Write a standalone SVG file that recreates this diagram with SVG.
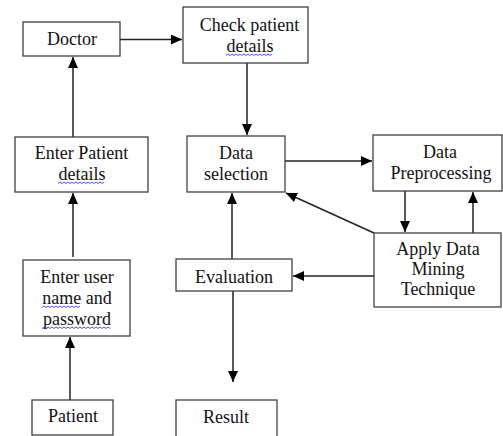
<svg xmlns="http://www.w3.org/2000/svg" width="503" height="436" viewBox="0 0 503 436">
<style>
  .box{fill:#fff;stroke:#404040;stroke-width:1.3}
  .c{stroke:#222;stroke-width:1.5;fill:none}
  .sq{stroke:#3a3aff;stroke-width:0.9;fill:none}
</style>
<defs>
  <marker id="ah" markerUnits="userSpaceOnUse" markerWidth="12" markerHeight="10" refX="11" refY="5" orient="auto">
    <path d="M0,0 L11,5 L0,10 Z" fill="#000"/>
  </marker>
</defs>
<rect width="503" height="436" fill="#fff"/>
<g id="connectors">
  <line class="c" x1="120" y1="39.5" x2="182" y2="39.5" marker-end="url(#ah)"/>
  <line class="c" x1="247" y1="63" x2="247" y2="135" marker-end="url(#ah)"/>
  <line class="c" x1="73" y1="137" x2="73" y2="57" marker-end="url(#ah)"/>
  <line class="c" x1="73" y1="257" x2="73" y2="193" marker-end="url(#ah)"/>
  <line class="c" x1="70" y1="400" x2="70" y2="337" marker-end="url(#ah)"/>
  <line class="c" x1="285" y1="161" x2="372" y2="161" marker-end="url(#ah)"/>
  <line class="c" x1="405" y1="191" x2="405" y2="232" marker-end="url(#ah)"/>
  <line class="c" x1="473" y1="233" x2="473" y2="192" marker-end="url(#ah)"/>
  <line class="c" x1="374" y1="233" x2="286" y2="193" marker-end="url(#ah)"/>
  <line class="c" x1="374" y1="276" x2="293" y2="276" marker-end="url(#ah)"/>
  <line class="c" x1="232" y1="259" x2="232" y2="193" marker-end="url(#ah)"/>
  <line class="c" x1="233" y1="291" x2="233" y2="382" marker-end="url(#ah)"/>
</g>
<g font-family="Liberation Serif" font-size="18" fill="#111" text-anchor="middle">
<g id="doctor">
  <rect class="box" x="23" y="22" width="97" height="34"/>
  <text x="72" y="45">Doctor</text>
</g>
<g id="check">
  <rect class="box" x="183" y="7" width="125" height="56"/>
  <text x="249.5" y="31">Check patient</text>
  <text x="250" y="52">details</text>
  <path class="sq" d="M226,55.5 l2,-1.5 l2,1.5 l2,-1.5 l2,1.5 l2,-1.5 l2,1.5 l2,-1.5 l2,1.5 l2,-1.5 l2,1.5 l2,-1.5 l2,1.5 l2,-1.5 l2,1.5 l2,-1.5 l2,1.5 l2,-1.5 l2,1.5 l2,-1.5 l2,1.5 l2,-1.5 l2,1.5 l2,-1.5"/>
</g>
<g id="enter-patient">
  <rect class="box" x="15" y="137" width="133" height="55"/>
  <text x="81.5" y="159">Enter Patient</text>
  <text x="82" y="180">details</text>
  <path class="sq" d="M58,183.5 l2,-1.5 l2,1.5 l2,-1.5 l2,1.5 l2,-1.5 l2,1.5 l2,-1.5 l2,1.5 l2,-1.5 l2,1.5 l2,-1.5 l2,1.5 l2,-1.5 l2,1.5 l2,-1.5 l2,1.5 l2,-1.5 l2,1.5 l2,-1.5 l2,1.5 l2,-1.5 l2,1.5 l2,-1.5"/>
</g>
<g id="enter-user">
  <rect class="box" x="23" y="260" width="107" height="76"/>
  <text x="77" y="283">Enter user</text>
  <text x="77" y="304">name and</text>
  <text x="77" y="325">password</text>
  <path class="sq" d="M42,307.5 l2,-1.5 l2,1.5 l2,-1.5 l2,1.5 l2,-1.5 l2,1.5 l2,-1.5 l2,1.5 l2,-1.5 l2,1.5 l2,-1.5 l2,1.5 l2,-1.5 l2,1.5 l2,-1.5 l2,1.5 l2,-1.5 l2,1.5 l2,-1.5"/>
  <path class="sq" d="M42,328.5 l2,-1.5 l2,1.5 l2,-1.5 l2,1.5 l2,-1.5 l2,1.5 l2,-1.5 l2,1.5 l2,-1.5 l2,1.5 l2,-1.5 l2,1.5 l2,-1.5 l2,1.5 l2,-1.5 l2,1.5 l2,-1.5 l2,1.5 l2,-1.5 l2,1.5 l2,-1.5 l2,1.5 l2,-1.5 l2,1.5 l2,-1.5 l2,1.5 l2,-1.5 l2,1.5 l2,-1.5 l2,1.5 l2,-1.5 l2,1.5 l2,-1.5 l2,1.5"/>
</g>
<g id="patient">
  <rect class="box" x="32" y="400" width="81" height="35"/>
  <text x="73" y="422">Patient</text>
</g>
<g id="data-selection">
  <rect class="box" x="187" y="136" width="98" height="56"/>
  <text x="236" y="159">Data</text>
  <text x="236" y="180">selection</text>
</g>
<g id="data-preprocessing">
  <rect class="box" x="373" y="135" width="129" height="56"/>
  <text x="440" y="158">Data</text>
  <text x="441" y="179">Preprocessing</text>
</g>
<g id="apply-mining">
  <rect class="box" x="374" y="233" width="127" height="74"/>
  <text x="438" y="255">Apply Data</text>
  <text x="438" y="275">Mining</text>
  <text x="438" y="295">Technique</text>
</g>
<g id="evaluation">
  <rect class="box" x="176" y="259" width="116" height="32"/>
  <text x="234" y="283">Evaluation</text>
</g>
<g id="result">
  <rect class="box" x="176" y="400" width="101" height="45"/>
  <text x="226" y="423">Result</text>
</g>
</g>
</svg>
